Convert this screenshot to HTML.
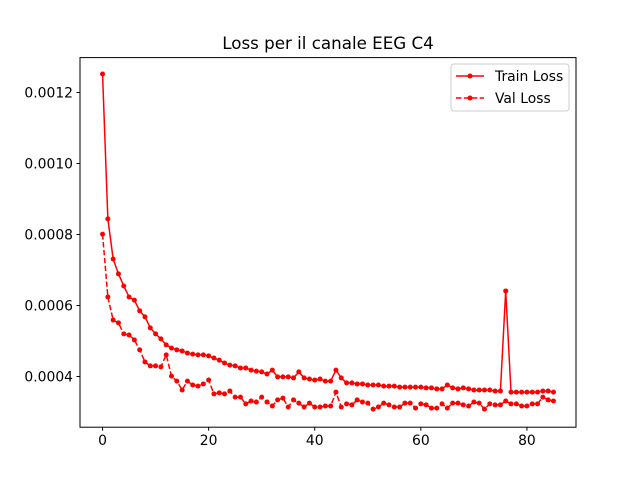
<!DOCTYPE html>
<html><head><meta charset="utf-8"><style>
body{margin:0;background:#fff}
text{font-family:"DejaVu Sans","Liberation Sans",sans-serif;fill:#000}
</style></head><body>
<svg id="chart" width="640" height="480" viewBox="0 0 640 480" xmlns="http://www.w3.org/2000/svg">
<rect width="640" height="480" fill="#fff"/>
<text x="328" y="49" font-size="16.7" text-anchor="middle">Loss per il canale EEG C4</text>
<g id="marks"></g>
<g id="axes"></g>
<rect x="80" y="57.6" width="496" height="369.6" fill="none" stroke="#000" stroke-width="1"/>
<g>
<rect x="451" y="64" width="118" height="47" rx="3" fill="#fff" fill-opacity="0.8" stroke="#ccc"/>
<g>
<line x1="456" y1="76" x2="484" y2="76" stroke="#f00" stroke-width="1.5"/><circle cx="470" cy="76" r="2.5" fill="#f00"/>
<text x="495" y="81" font-size="13.9">Train Loss</text></g>
<g>
<line x1="456" y1="98" x2="484" y2="98" stroke="#f00" stroke-width="1.5" stroke-dasharray="5.5,2.4"/><circle cx="470" cy="98" r="2.5" fill="#f00"/>
<text x="495" y="103" font-size="13.9">Val Loss</text></g>
</g>
</svg>
<script>
const trainLoss=[1252,844,731,689,655,624,615,585,568,537,520,506,489,480,475,472,466,463,461,461,458,452,446,438,432,430,424,424,418,415,413,407,418,399,399,399,396,413,396,393,390,393,387,387,418,396,382,382,379,379,376,376,376,373,373,373,370,370,370,370,370,368,368,365,365,376,368,365,368,365,362,362,362,362,359,359,641,356,356,356,356,356,356,359,359,356];
const valLoss=[801,624,559,551,520,517,503,475,441,430,430,427,461,401,387,362,387,376,373,379,390,351,354,351,359,342,342,323,331,328,342,328,317,334,339,314,334,325,314,325,314,314,317,317,356,314,323,320,334,328,325,308,314,325,320,314,314,325,325,311,323,320,311,311,323,311,325,325,320,317,328,325,308,323,320,320,331,323,323,317,317,323,323,342,334,331];
const xTicks=[0,20,40,60,80];
const yTicks=[0.0004,0.0006,0.0008,0.0010,0.0012];
const yTickLabels=["0.0004","0.0006","0.0008","0.0010","0.0012"];
const NS="http://www.w3.org/2000/svg";
const X0=80,X1=576,Y0=427.2,Y1=57.6,xmin=-4.25,xmax=89.25,ymin=0.0002567,ymax=0.0013;
function sx(v){return X0+(v-xmin)/(xmax-xmin)*(X1-X0);}
function sy(v){return 376.5-(v-0.0004)*355000;}
const marks=document.getElementById('marks'),axes=document.getElementById('axes');
function series(arr,name,dash){
  const pts=arr.map((v,i)=>sx(i)+","+sy(v*1e-6)).join(" ");
  const pl=document.createElementNS(NS,'polyline');
  pl.setAttribute('points',pts);pl.setAttribute('fill','none');pl.setAttribute('stroke','#f00');pl.setAttribute('stroke-width','1.5');
  if(dash)pl.setAttribute('stroke-dasharray','5.5,2.4');
  
  
  marks.appendChild(pl);
  arr.forEach((v,i)=>{const c=document.createElementNS(NS,'circle');
    c.setAttribute('cx',sx(i));c.setAttribute('cy',sy(v*1e-6));c.setAttribute('r','2.5');c.setAttribute('fill','#f00');
    
    
    marks.appendChild(c);});
}
series(trainLoss,'train-loss',false);
series(valLoss,'val-loss',true);
xTicks.forEach(t=>{const x=sx(t);
  const l=document.createElementNS(NS,'line');l.setAttribute('x1',x);l.setAttribute('x2',x);l.setAttribute('y1',Y0);l.setAttribute('y2',Y0+3.5);l.setAttribute('stroke','#000');
  
  
  axes.appendChild(l);
  const tx=document.createElementNS(NS,'text');tx.setAttribute('x',x);tx.setAttribute('y',Y0+18);tx.setAttribute('font-size','13.9');tx.setAttribute('text-anchor','middle');tx.textContent=t;
  
  
  axes.appendChild(tx);});
yTicks.forEach((t,i)=>{const y=sy(t);
  const l=document.createElementNS(NS,'line');l.setAttribute('x1',X0-3.5);l.setAttribute('x2',X0);l.setAttribute('y1',y);l.setAttribute('y2',y);l.setAttribute('stroke','#000');
  
  
  axes.appendChild(l);
  const tx=document.createElementNS(NS,'text');tx.setAttribute('x',X0-7);tx.setAttribute('y',y+5);tx.setAttribute('font-size','13.9');tx.setAttribute('text-anchor','end');tx.textContent=yTickLabels[i];
  
  
  axes.appendChild(tx);});
</script>
</body></html>
